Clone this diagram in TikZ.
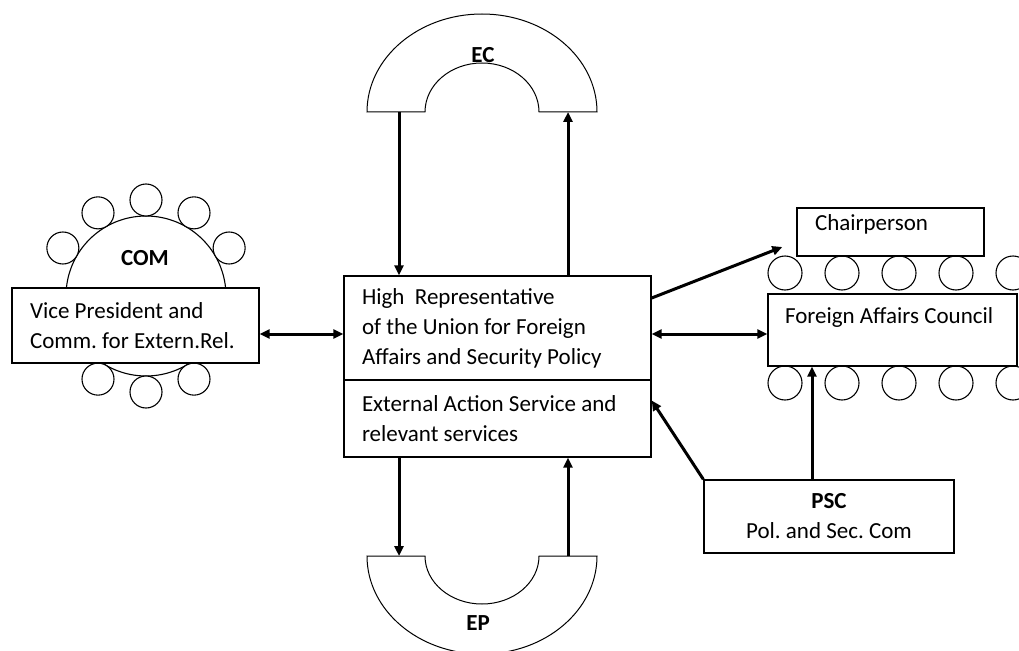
\documentclass[tikz,border=0pt]{standalone}
\usepackage{fontspec}
\setmainfont{Carlito}
\usetikzlibrary{arrows.meta}
\frenchspacing

\begin{document}
\begin{tikzpicture}[x=1pt, y=-1pt,
    font=\fontsize{23}{30}\selectfont,
    box/.style={draw=black, line width=1.4pt, fill=white, inner sep=0pt},
    lefttxt/.style={align=left, execute at begin node={\spaceskip=\fontdimen2\font\xspaceskip=\fontdimen2\font\relax}},
    seat/.style={draw=black, line width=1.1pt, fill=white},
    arch/.style={draw=black, line width=1pt, fill=white},
    lbl/.style={font=\fontsize{23}{30}\selectfont\bfseries, inner sep=0pt},
    conn/.style={draw=black, line width=3pt, -{Triangle[length=10pt,width=9pt]}},
    dconn/.style={draw=black, line width=3pt, {Triangle[length=10pt,width=9pt]}-{Triangle[length=10pt,width=9pt]}}]

\useasboundingbox (0,0) rectangle (1019,650);

% ============================
\draw[arch] (367,112) arc[start angle=180, end angle=0, x radius=115pt, y radius=98pt]
    -- (539,112) arc[start angle=0, end angle=180, x radius=57pt, y radius=49pt] -- cycle;
\node[lbl] (ec) at (483,55) {EC};
\coordinate (ecL) at (399,112);
\coordinate (ecR) at (568,112);

\draw[arch] (367,556) arc[start angle=180, end angle=360, x radius=115pt, y radius=98pt]
    -- (539,556) arc[start angle=0, end angle=-180, x radius=57pt, y radius=48pt] -- cycle;
\node[lbl] (ep) at (478,623) {EP};
\coordinate (epL) at (399,556);
\coordinate (epR) at (568,556);

% ============================
\draw[seat] (146,296) circle[radius=80pt];
\foreach \a in {30,60,90,120,150,240,270,300}
    \draw[seat] (146,296) ++(-\a:96) circle[radius=16pt];
\node[lbl] (com) at (145,258) {COM};

\node[box, lefttxt, inner xsep=18pt, text width=211pt, minimum width=247pt, minimum height=75pt]
    (vp) at (135.5,325.5) {Vice President and\\Comm. for Extern.Rel.};

% ============================
\node[box, lefttxt, inner xsep=18pt, text width=271pt, minimum width=307pt, minimum height=104pt]
    (hr) at (497.5,328) {High~ Representative\\of the Union for Foreign\\Affairs and Security Policy};

\node[box, lefttxt, inner xsep=18pt, text width=271pt, minimum width=307pt, minimum height=77pt]
    (eas) at (497.5,418.5) {External Action Service and\\relevant services};

% ============================
\foreach \x in {785,842,899,956,1013} {
    \draw[seat] (\x,273) circle[radius=17pt];
    \draw[seat] (\x,383) circle[radius=17pt];
}

\node[box, lefttxt, inner xsep=18pt, inner ysep=5pt, text width=151pt, text height=17pt, text depth=21pt]
    (chair) at (890.5,232) {Chairperson};

\node[box, lefttxt, inner xsep=17pt, inner ysep=5pt, text width=215pt, text height=24pt, text depth=38pt]
    (fac) at (892.5,330) {Foreign Affairs Council};

\node[box, align=center, minimum width=250pt, minimum height=73pt]
    (psc) at (829,516.5) {\textbf{PSC}\\Pol. and Sec. Com};

% ============================
\draw[conn] (ecL) -- (ecL |- hr.north);
\draw[conn] (hr.north -| ecR) -- (ecR);
\draw[conn] (eas.south -| epL) -- (epL);
\draw[conn] (epR) -- (epR |- eas.south);

\draw[dconn] ([yshift=-8.5pt]vp.east) -- ([yshift=-8.5pt]vp.east -| hr.west);
\draw[dconn] ([yshift=-6pt]hr.east) -- ([yshift=-6pt]hr.east -| fac.west);
\draw[conn] ([yshift=30pt]hr.east) -- ([xshift=-14pt,yshift=-15pt]chair.west);
\draw[conn] (psc.north west) -- ([yshift=18pt]eas.east);
\draw[conn] ([xshift=-17pt]psc.north) -- ([xshift=-17pt]psc.north |- fac.south);

\end{tikzpicture}
\end{document}
